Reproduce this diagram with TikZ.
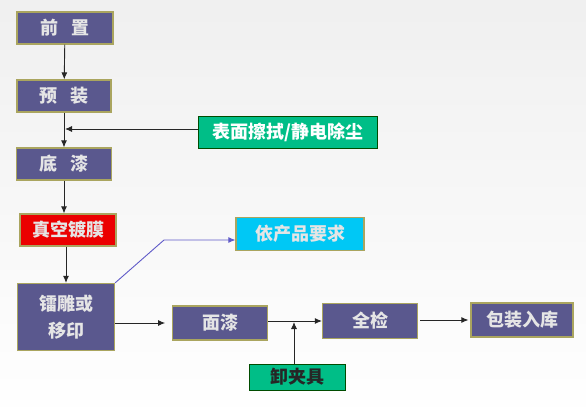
\documentclass[tikz,border=0pt]{standalone}
\usepackage{fontspec}
\newfontfamily\cjk{Noto Sans CJK SC}
\usetikzlibrary{arrows.meta}
\definecolor{slate}{RGB}{90,88,142}
\definecolor{khaki}{RGB}{170,165,95}
\definecolor{tealgreen}{RGB}{0,190,135}
\definecolor{skycyan}{RGB}{0,200,245}
\definecolor{linkblue}{RGB}{95,90,200}
\tikzset{
  procbox/.style={draw=khaki, line width=1.2pt, fill=slate, text=white!90!black,
    inner sep=0pt, font=\cjk\bfseries\fontsize{18}{21}\selectfont},
  notebox/.style={draw=black!70!green, line width=1pt, fill=tealgreen, text=white,
    inner sep=0pt, font=\cjk\bfseries\fontsize{18}{21}\selectfont},
  flow/.style={-{Latex[length=7pt,width=6pt]}, line width=0.9pt, black!85},
}
\begin{document}
\begin{tikzpicture}[x=1pt,y=-1pt]
			%%%%% START %%%%%
			
			\shade[top color=black!6, bottom color=white] (0,0) rectangle (586,420);
			\useasboundingbox (0,0) rectangle (586,420);
			
			\node[procbox, minimum width=96pt, minimum height=32pt] (front) at (65, 28) {前\hspace{0.7em}置};
			\node[procbox, minimum width=94pt, minimum height=32pt] (preload) at (64, 96) {预\hspace{0.7em}装};
			\node[procbox, minimum width=95pt, minimum height=32pt] (primer) at (64, 164) {底\hspace{0.7em}漆};
			\node[procbox, fill=red!92!black, minimum width=96pt, minimum height=32pt] (vacuum) at (68, 230) {真空镀膜};
			\node[procbox, minimum width=97pt, minimum height=67pt, align=center] (engrave) at (66, 317) {镭雕或\\[6pt]移印};
			\node[procbox, minimum width=95pt, minimum height=34pt] (topcoat) at (220, 323) {面漆};
			\node[procbox, minimum width=95pt, minimum height=35pt] (inspect) at (370, 321) {全检};
			\node[procbox, minimum width=102pt, minimum height=34pt] (pack) at (522, 320) {包装入库};
			
			\node[notebox, minimum width=179pt, minimum height=32pt] (wipe) at (288, 132) {表面擦拭/静电除尘};
			\node[notebox, text=black!85, minimum width=96pt, minimum height=26pt] (unclamp) at (297, 377) {卸夹具};
			\node[procbox, fill=skycyan, minimum width=128pt, minimum height=33pt] (request) at (300, 234) {依产品要求};
			
			\coordinate (joinA) at (65, 129);
			\coordinate (joinB) at (294, 322);
			\coordinate (bend) at (164, 240);
			
			\draw[flow] (front) -- (preload);
			\draw[flow] (preload) -- (primer);
			\draw[flow] (wipe.west |- joinA) -- (joinA);
			\draw[flow] (primer) -- (vacuum.north -| primer);
			\draw[flow] (vacuum.south -| engrave) -- (engrave);
			\draw[line width=0.9pt, linkblue, -{Latex[length=7pt,width=6pt]}] (engrave.north east) -- (bend) -- (request.west |- bend);
			\draw[flow] (engrave.east |- topcoat) -- ++(50,0);
			\draw[flow] (topcoat.east |- inspect) -- (inspect.west);
			\draw[flow] (unclamp.north -| joinB) -- (joinB);
			\draw[flow] ([xshift=2pt]inspect.east |- pack) -- ([xshift=-2pt]pack.west);
			
			%%%%% END %%%%%
\end{tikzpicture}
\end{document}
